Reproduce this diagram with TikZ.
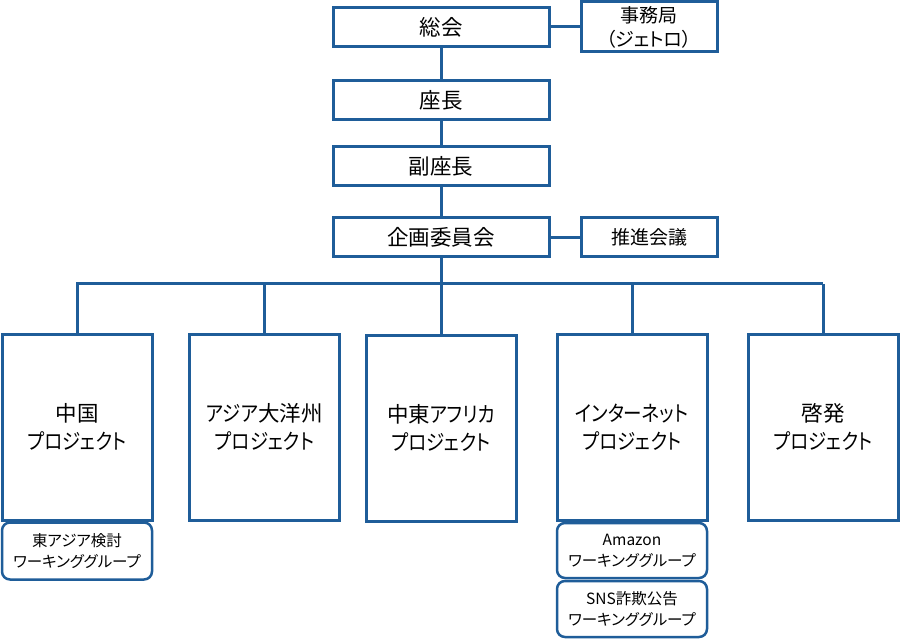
\documentclass[tikz,border=0pt]{standalone}
\usepackage{fontspec}
\setmainfont{Noto Sans CJK JP}[RawFeature=+palt]
\newfontfamily\kanafont{Noto Sans CJK JP}[RawFeature=+palt,FakeStretch=0.86]
\usepackage{tikz}

\definecolor{orgblue}{RGB}{31,93,153}
\newcommand{\kn}[1]{{\kanafont #1}}

\tikzset{
  orgbox/.style={draw=orgblue, line width=3pt, fill=white, align=center, inner sep=0pt,
    font=\fontsize{21.5}{25}\selectfont},
  topbox/.style={orgbox, minimum width=216, minimum height=39},
  sidebox/.style={orgbox, minimum width=136, minimum height=39,
    font=\fontsize{19}{24}\selectfont},
  projbox/.style={orgbox, minimum width=150, minimum height=186,
    font=\fontsize{21.5}{28}\selectfont},
  wgbox/.style={orgbox, line width=2.5pt, rounded corners=8pt, minimum width=150, minimum height=56,
    font=\fontsize{15.5}{21}\selectfont},
  orgline/.style={draw=orgblue, line width=3pt},
}

\begin{document}
\begin{tikzpicture}[x=1pt,y=1pt,yscale=-1,xscale=1]
\useasboundingbox (0,0) rectangle (900,639);

%Shape: Rectangle [top column]
\node [topbox] (sokai) at (441,27) {総会};
\node [topbox] (zacho) at (441,100) {座長};
\node [topbox] (fukuzacho) at (441,166.5) {副座長};
\node [topbox] (kikaku) at (441,237.5) {企画委員会};
%Shape: Rectangle [side boxes]
\node [sidebox, minimum height=50] (jimukyoku) at (649,27) {事務局\\（ジェトロ）};
\node [sidebox] (suishin) at (649,237.5) {推進会議};

%Shape: Rectangle [projects]
\node [projbox] (china) at (77,427) {中国\\\kn{プロジェクト}};
\node [projbox] (asia) at (264.5,427) {\kn{アジア}大洋州\\\kn{プロジェクト}};
\node [projbox] (chuto) at (441,428) {中東\kn{アフリカ}\\\kn{プロジェクト}};
\node [projbox] (internet) at (632,427) {\kn{インターネット}\\\kn{プロジェクト}};
\node [projbox] (keihatsu) at (823,427) {啓発\\\kn{プロジェクト}};

%Shape: Rounded Rect [working groups]
\node [wgbox, minimum height=57] (eastasia) at (77,551) {東アジア検討\\ワーキンググループ};
\node [wgbox, minimum height=55] (amazon) at (632,550.5) {Amazon\\ワーキンググループ};
\node [wgbox] (sns) at (632,609) {SNS詐欺公告\\ワーキンググループ};

%Straight Lines [trunk]
\draw [orgline] (sokai) -- (zacho);
\draw [orgline] (zacho) -- (fukuzacho);
\draw [orgline] (fukuzacho) -- (kikaku);
\draw [orgline] (kikaku) -- (chuto);
\draw [orgline] (sokai) -- (jimukyoku);
\draw [orgline] (kikaku) -- (suishin);

%Straight Lines [bus]
\coordinate (busL) at (76,284);
\coordinate (busR) at (823,284);
\draw [orgline] (busL) -- (busR);
\draw [orgline] (china.north |- busL) -- (china);
\draw [orgline] (asia.north |- busL) -- (asia);
\draw [orgline] (internet.north |- busL) -- (internet);
\draw [orgline] (keihatsu.north |- busL) -- (keihatsu);

\end{tikzpicture}
\end{document}
